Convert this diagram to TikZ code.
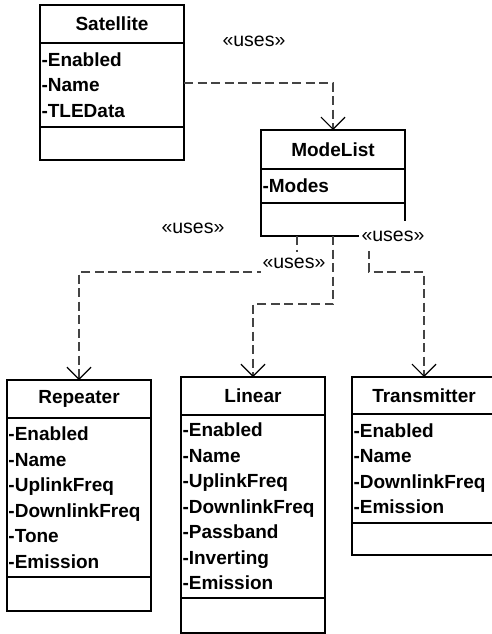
\documentclass[tikz,border=0pt]{standalone}
\usepackage{fontspec}
\setmainfont{Liberation Sans}
\usetikzlibrary{arrows.meta}
\definecolor{dashc}{HTML}{444444}
\tikzset{
  cls/.style={draw, line width=1.6pt, outer sep=0pt, minimum width=144pt, anchor=north west},
  hdr/.style={cls, inner sep=0pt, font=\fontsize{19pt}{25.5pt}\selectfont\bfseries},
  attrs/.style={cls, inner sep=1pt, text width=141pt, align=left, font=\fontsize{19pt}{25.5pt}\selectfont\bfseries},
  opbox/.style={cls},
  uses/.style={dashc, line width=1.3pt, dash pattern=on 9pt off 4.5pt,
    -{Straight Barb[length=12pt,width=24pt,line width=1.2pt,color=black]}},
  lbl/.style={font=\fontsize{19.5pt}{20pt}\selectfont, inner sep=0pt}
}
\begin{document}
\begin{tikzpicture}[x=1pt,y=-1pt]
\useasboundingbox (0,0) rectangle (492,634);
\clip (0,0) rectangle (492,634);
% Satellite
\node[hdr, minimum height=38pt] (sat) at (40,5) {Satellite};
\node[attrs, minimum height=84pt] (satA) at (sat.south west) {-Enabled\\-Name\\-TLEData};
\node[opbox, minimum height=33pt] (satO) at (satA.south west) {};
% ModeList
\node[hdr, minimum height=39pt] (ml) at (261,130) {ModeList};
\node[attrs, minimum height=34pt] (mlA) at (ml.south west) {-Modes};
\node[opbox, minimum height=33pt] (mlO) at (mlA.south west) {};
% Repeater
\node[hdr, minimum height=38pt] (rep) at (7,380) {Repeater};
\node[attrs, minimum height=159pt] (repA) at (rep.south west) {-Enabled\\-Name\\-UplinkFreq\\-DownlinkFreq\\-Tone\\-Emission};
\node[opbox, minimum height=34pt] (repO) at (repA.south west) {};
% Linear
\node[hdr, minimum height=38pt] (lin) at (181,377) {Linear};
\node[attrs, minimum height=183pt] (linA) at (lin.south west) {-Enabled\\-Name\\-UplinkFreq\\-DownlinkFreq\\-Passband\\-Inverting\\-Emission};
\node[opbox, minimum height=35pt] (linO) at (linA.south west) {};
% Transmitter
\node[hdr, minimum height=37pt] (tx) at (352,377) {Transmitter};
\node[attrs, minimum height=109pt] (txA) at (tx.south west) {-Enabled\\-Name\\-DownlinkFreq\\-Emission};
\node[opbox, minimum height=32pt] (txO) at (txA.south west) {};
% connectors
\draw[uses] ([yshift=2pt]satA.east) -| (ml.north);
\draw[uses] ([xshift=-36pt]mlO.south) -- ++(0,36) -| (rep.north);
\draw[uses] (mlO.south) -- ++(0,68) -| (lin.north);
\draw[uses] ([xshift=36pt]mlO.south) -- ++(0,36) -| (tx.north);
% labels
\node[lbl] (u1) at (254,41) {«uses»};
\node[lbl] (u2) at (193,228) {«uses»};
\node[lbl, fill=white, minimum height=30pt, inner xsep=3pt] (u3) at (393,236) {«uses»};
\node[lbl, fill=white, minimum height=22pt, inner xsep=2pt] (u4) at (294,263) {«uses»};
\end{tikzpicture}
\end{document}
